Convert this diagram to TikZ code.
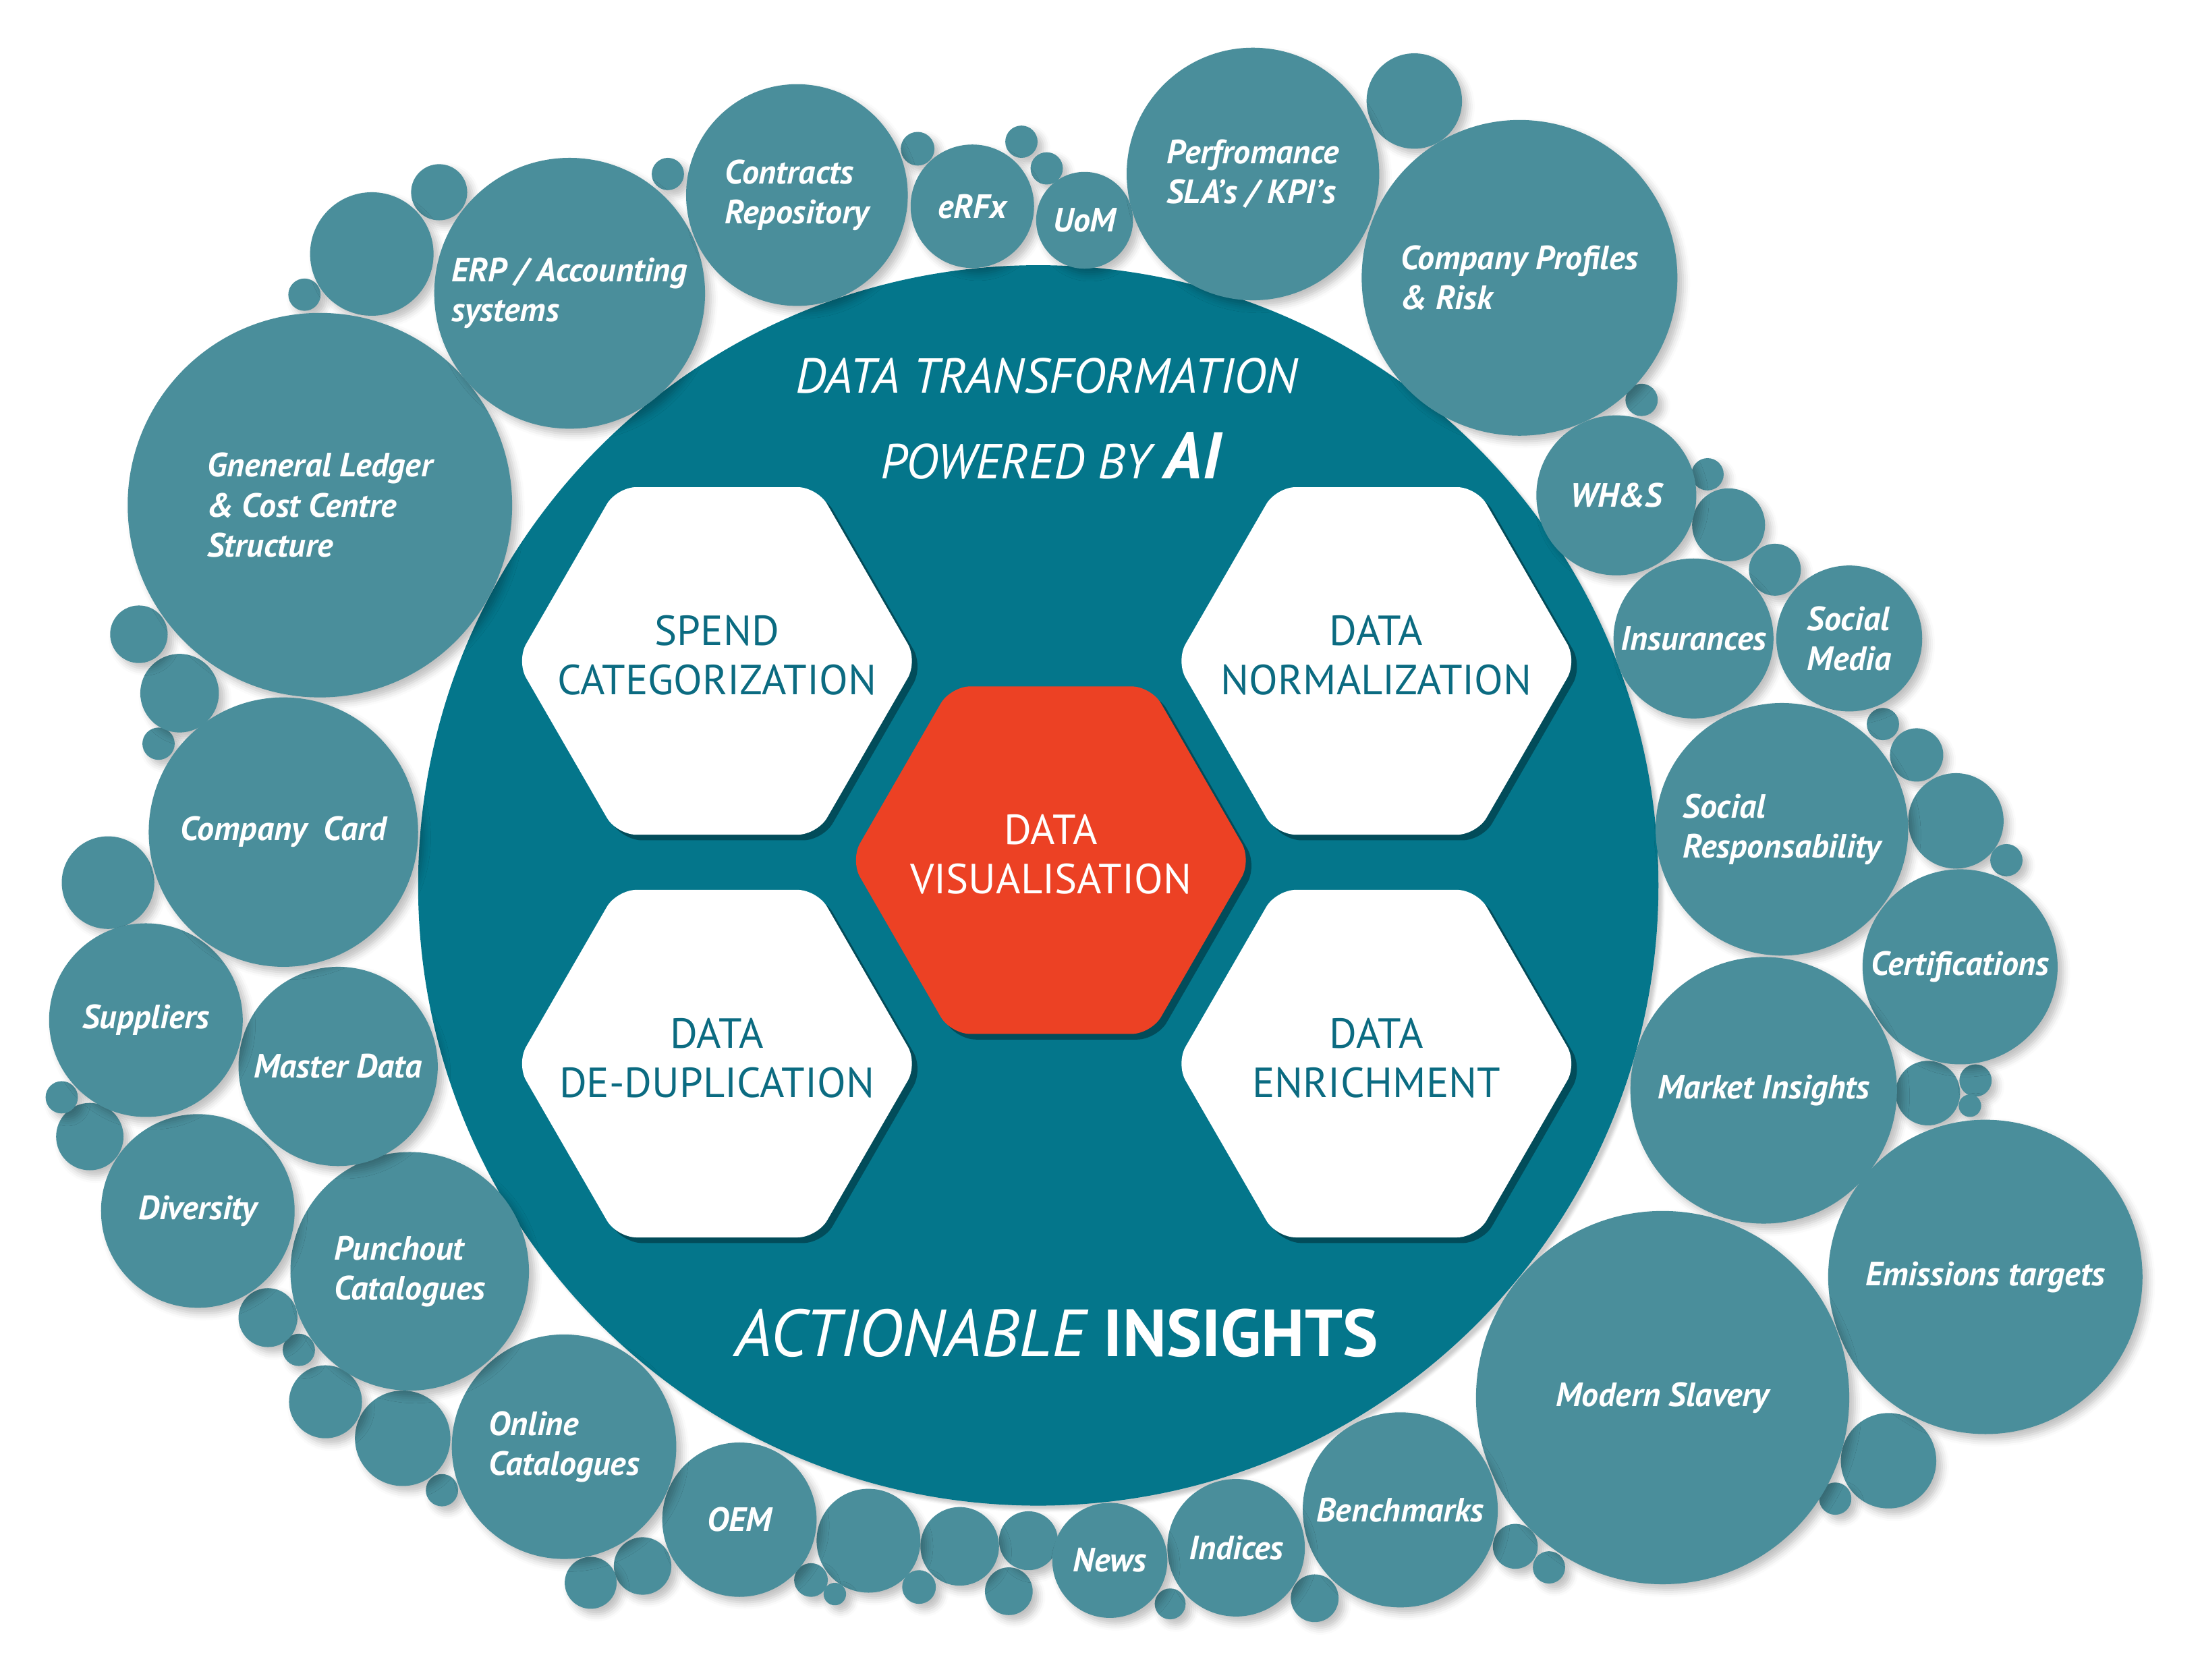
\documentclass[tikz,border=0pt]{standalone}
\usepackage{fontspec}
\setmainfont{PT Sans}
\usetikzlibrary{
  shapes.geometric,
  shadows,
  shadows.blur
}
\definecolor{BubTeal}{HTML}{4A8E9B}
\definecolor{CoreTeal}{HTML}{04768B}
\definecolor{HexInk}{HTML}{0B6B81}
\definecolor{VizRed}{HTML}{EC4124}
\tikzset{
  % Soft shadow under every bubble
  softshade/.style={
    blur shadow={shadow xshift=4pt, shadow yshift=-4pt,
      shadow blur radius=5pt, shadow opacity=25}
  },
  % Labelled bubble: diameter as argument
  bub/.style={
    circle, fill=BubTeal, minimum size=#1pt, inner sep=0pt,
    text=white, align=left, softshade,
    font=\fontsize{24}{28.5}\selectfont\bfseries\itshape
  },
  % Unlabelled filler bubble
  dot/.style={
    circle, fill=BubTeal, minimum size=#1pt, inner sep=0pt, softshade
  },
  % Hexagon tile (text goes in a centre label so the shape keeps its size)
  hexbox/.style={
    regular polygon, regular polygon sides=6,
    minimum size=286pt, inner sep=0pt, rounded corners=14pt,
    fill=#1,
    drop shadow={shadow xshift=4pt, shadow yshift=-4pt,
      opacity=0.35, fill=black}
  },
  % Words on a hexagon
  hextext/.style={
    text=#1, align=center, inner sep=0pt, yshift=4pt,
    font=\fontsize{30}{35}\selectfont
  },
  % Title lines on the big disc
  headline/.style={
    text=white, inner sep=0pt, font=\fontsize{#1}{#1}\selectfont\itshape
  }
}

\begin{document}
\begin{tikzpicture}[x=1pt, y=-1pt]
  \useasboundingbox (0,0) rectangle (1568,1197);

  % ---- BIG DISC ----
  \node[circle, fill=CoreTeal, minimum size=884pt, inner sep=0pt,
    blur shadow={shadow xshift=3pt, shadow yshift=-3pt, shadow opacity=20}]
    (core) at (740,631) {};

  % ---- HEXAGONS ----
  \node[hexbox=white,
    label={[hextext=HexInk]center:{SPEND\\CATEGORIZATION}}] (spend) at (511,471) {};
  \node[hexbox=white,
    label={[hextext=HexInk]center:{DATA\\NORMALIZATION}}]   (norm)  at (981,471) {};
  \node[hexbox=white,
    label={[hextext=HexInk]center:{DATA\\DE-DUPLICATION}}]  (dedup) at (511,758) {};
  \node[hexbox=white,
    label={[hextext=HexInk]center:{DATA\\ENRICHMENT}}]      (enrich) at (981,758) {};
  \node[hexbox=VizRed,
    label={[hextext=white]center:{DATA\\VISUALISATION}}]    (viz)   at (749,613) {};

  % ---- TITLES ----
  \node[headline=35] (dtrans) at (746,268) {DATA TRANSFORMATION};
  \node[headline=35] (power)  at (749,325)
    {POWERED BY {\fontsize{47}{47}\selectfont\bfseries AI}};
  \node[headline=47.5] (insight) at (753,950)
    {ACTIONABLE {\bfseries\upshape INSIGHTS}};

  % ---- FILLER BUBBLES ----
  \foreach \x/\y/\d [count=\i] in {
    313/137/40, 217/210/23, 265/181/88, 476/124/23, 654/106/24,
    728/101/23, 746/120/23, 1008/72/68, 1170/285/23, 1217/338/23,
    1232/374/52, 1265/406/37, 1342/516/23, 1366/538/38, 1394/585/68,
    1430/613/23, 1374/779/46, 1408/770/23, 1404/788/16, 1346/1041/68,
    1308/1068/23, 1080/1102/32, 1104/1117/23, 937/1139/34, 834/1143/22,
    719/1134/34, 733/1098/42, 684/1102/56, 619/1098/74, 655/1131/24,
    578/1126/24, 595/1136/16, 458/1116/41, 421/1128/37, 315/1062/23,
    287/1025/68, 232/999/52, 213/962/23, 191/939/42, 64/810/48,
    44/782/23, 77/629/66, 113/530/23, 128/494/56, 99/452/41}
    \node[dot=\d] (f\i) at (\x,\y) {};

  % ---- LABELLED BUBBLES ----
  \node[bub=274] (ledger)    at (228,360)  {Gneneral Ledger\\\& Cost Centre\\Structure};
  \node[bub=193] (erp)       at (406,209)  {ERP / Accounting\\systems};
  \node[bub=158] (contracts) at (568,139)  {Contracts\\Repository};
  \node[bub=88]  (erfx)      at (693,147)  {eRFx};
  \node[bub=69]  (uom)       at (773,157)  {UoM};
  \node[bub=180] (perf)      at (893,124)  {Perfromance\\SLA’s / KPI’s};
  \node[bub=225] (profiles)  at (1083,198) {Company Profiles\\\& Risk};
  \node[bub=114] (whs)       at (1152,353) {WH\&S};
  \node[bub=114] (insur)     at (1207,455) {Insurances};
  \node[bub=104] (socmed)    at (1318,455) {Social\\Media};
  \node[bub=180] (socresp)   at (1270,591) {Social\\Responsability};
  \node[bub=139] (certs)     at (1397,689) {Certifications};
  \node[bub=190] (market)    at (1257,777) {Market Insights};
  \node[bub=224] (emis)      at (1415,910) {Emissions targets};
  \node[bub=266] (slavery)   at (1185,996) {Modern Slavery};
  \node[bub=139] (bench)     at (998,1076) {Benchmarks};
  \node[bub=98]  (indices)   at (881,1103) {Indices};
  \node[bub=82]  (news)      at (791,1112) {News};
  \node[bub=110] (oem)       at (527,1083) {OEM};
  \node[bub=160] (online)    at (402,1031) {Online\\Catalogues};
  \node[bub=170] (punch)     at (292,906)  {Punchout\\Catalogues};
  \node[bub=138] (divers)    at (141,863)  {Diversity};
  \node[bub=142] (master)    at (241,760)  {Master Data};
  \node[bub=138] (suppl)     at (104,727)  {Suppliers};
  \node[bub=192] (card)      at (202,593)  {Company~ Card};

\end{tikzpicture}
\end{document}
